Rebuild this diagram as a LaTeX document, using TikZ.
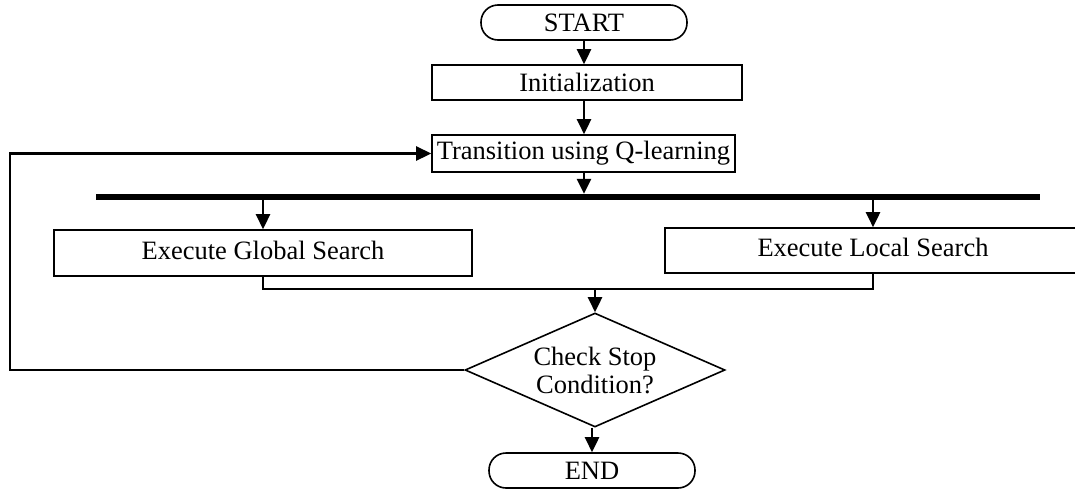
\documentclass[tikz,border=0pt]{standalone}
\usepackage{fontspec}
\setmainfont{Liberation Serif}
\usetikzlibrary{shapes.geometric,arrows.meta}
\begin{document}
\begin{tikzpicture}[x=1pt,y=-1pt,
  every node/.style={font=\fontsize{26.5}{28}\selectfont, inner sep=0pt},
  box/.style={draw, line width=1.6pt, rectangle, align=center},
  term/.style={draw, line width=1.6pt, rectangle, rounded corners=17pt, minimum width=206pt, minimum height=35pt},
  dec/.style={draw, line width=1.6pt, diamond, shape aspect=2.28, minimum width=260pt, minimum height=114pt, align=center},
  conn/.style={line width=2.6pt},
  arr/.style={conn, -{Triangle[length=15pt,width=14pt]}},
  bar/.style={fill=black, minimum width=944pt, minimum height=6pt}
]
\useasboundingbox (0,0) rectangle (1075,498);
\node[term] (start) at (584,22.5) {START};
\node[box, minimum width=310pt, minimum height=35pt] (init) at (587,82.5) {Initialization};
\node[box, minimum width=303pt, minimum height=37pt] (trans) at (583.5,153.5) {Transition using Q-learning};
\node[bar] (bar) at (568,197) {};
\node[box, minimum width=418pt, minimum height=46pt, text depth=6pt] (global) at (263,253) {Execute Global Search};
\node[box, minimum width=416pt, minimum height=45pt, text depth=6pt] (local) at (873,250.5) {Execute Local Search};
\node[dec] (chk) at (595,370) {Check Stop\\Condition?};
\node[term] (end) at (592,470.5) {END};
\coordinate (m) at (595,289);
\coordinate (lp) at (10,0);
\draw[arr] (start.south) -- (start.south |- init.north);
\draw[arr] (init.south -| start.south) -- (start.south |- trans.north);
\draw[arr] (trans.south -| start.south) -- (start.south |- bar.north);
\draw[arr] (bar.south -| global.north) -- (global.north);
\draw[arr] (bar.south -| local.north) -- (local.north);
\draw[conn] (global.south) |- (m) -| (local.south);
\draw[arr] (m) -- (chk.north);
\draw[arr] (chk.south -| end.north) -- (end.north);
\draw[arr] (chk.west) -- (chk.west -| lp) |- (trans.west);
\end{tikzpicture}
\end{document}
